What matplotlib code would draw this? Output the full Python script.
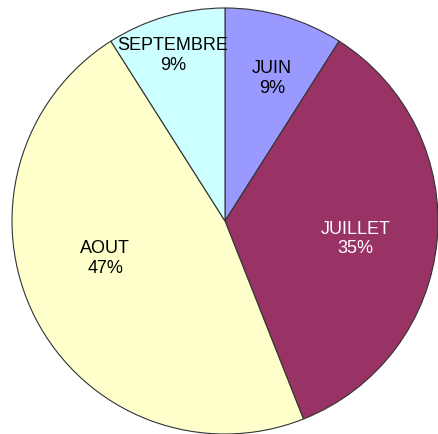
import numpy as np
import matplotlib
matplotlib.use("Agg")
import matplotlib.pyplot as plt

# --- Data ---
months = ["JUIN", "JUILLET", "AOUT", "SEPTEMBRE"]
shares = [9, 35, 47, 9]

# --- Style ---
colors = ["#9999FF", "#993366", "#FFFFCC", "#CCFFFF"]
text_colors = ["black", "white", "black", "black"]
label_frac = [0.705, 0.62, 0.59, 0.815]   # radial position of labels
label_shift = [-2, -2.5, -9.5, 1.3]       # angular nudge (degrees)

plt.rcParams["font.family"] = ["Liberation Sans", "DejaVu Sans"]

fig = plt.figure(figsize=(4.38, 4.34), dpi=100)
ax = fig.add_axes([0, 0, 1, 1])

cx, cy, r = 225, 434 - 221, 213
wedges, _ = ax.pie(shares, colors=colors, startangle=90, counterclock=False,
                   center=(cx, cy), radius=r,
                   wedgeprops=dict(edgecolor="#333333", linewidth=0.8))

for w, name, val, tc, fr, sh in zip(wedges, months, shares, text_colors,
                                     label_frac, label_shift):
    mid = np.deg2rad((w.theta1 + w.theta2) / 2 + sh)
    x = cx + fr * r * np.cos(mid)
    y = cy + fr * r * np.sin(mid)
    ax.text(x, y, f"{name}\n{val}%", ha="center", va="center",
            color=tc, fontsize=13, linespacing=1.2)

ax.set_xlim(0, 438)
ax.set_ylim(0, 434)
ax.set_aspect("equal")
ax.axis("off")

fig.savefig("out.png", dpi=100, facecolor="white")
